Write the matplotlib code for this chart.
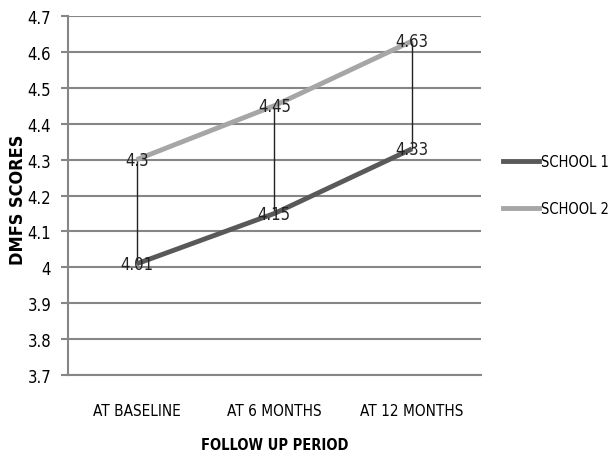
import matplotlib.pyplot as plt
from matplotlib.lines import Line2D

plt.rcParams['font.family'] = ['DejaVu Sans']
plt.rcParams['font.stretch'] = 'condensed'

# dmfs scores per follow up period
periods = ["AT BASELINE", "AT 6 MONTHS", "AT 12 MONTHS"]
school_1 = [4.01, 4.15, 4.33]
school_2 = [4.30, 4.45, 4.63]
y_ticks = [3.7, 3.8, 3.9, 4.0, 4.1, 4.2, 4.3, 4.4, 4.5, 4.6, 4.7]
y_tick_labels = ["3.7", "3.8", "3.9", "4", "4.1", "4.2", "4.3", "4.4", "4.5", "4.6", "4.7"]

c1 = "#595959"
c2 = "#a6a6a6"
grid_c = "#868686"

fig = plt.figure(figsize=(6.11, 4.56), dpi=100)
ax = fig.add_axes([0.111, 0.175, 0.676, 0.788])

x = list(range(len(periods)))

for yt in y_ticks:
    ax.axhline(yt, color=grid_c, lw=1.5, zorder=0)

# high-low lines between the two schools
ax.vlines(x, school_1, school_2, color="#222222", lw=1.0, zorder=1)

ax.plot(x, school_1, color=c1, lw=3.5, solid_capstyle="butt", zorder=2)
ax.plot(x, school_2, color=c2, lw=3.5, solid_capstyle="butt", zorder=2)

for xi, v in zip(x, school_1):
    ax.text(xi, v, f"{v:g}", ha="center", va="center", fontsize=12, color="#222222", zorder=3)
for xi, v in zip(x, school_2):
    ax.text(xi, v, f"{v:g}", ha="center", va="center", fontsize=12, color="#222222", zorder=3)

ax.set_xlim(-0.5, len(periods) - 0.5)
ax.set_ylim(3.7, 4.7)
ax.set_yticks(y_ticks)
ax.set_yticklabels(y_tick_labels, fontsize=12)
ax.set_xticks(x)
ax.set_xticklabels(periods, fontsize=11)
ax.tick_params(axis="y", length=5, width=1.5, color=grid_c, pad=7)
ax.tick_params(axis="x", length=0, pad=20)

for s in ["top", "right"]:
    ax.spines[s].set_visible(False)
for s in ["left", "bottom"]:
    ax.spines[s].set_color(grid_c)
    ax.spines[s].set_linewidth(1.5)

fig.text(0.5 * (0.111 + 0.787), 1 - 446 / 456, "FOLLOW UP PERIOD", fontsize=10.5,
         fontweight="bold", ha="center", va="center")
fig.text(18 / 611, 1 - 200 / 456, "DMFS SCORES", fontsize=13, fontweight="bold",
         rotation=90, ha="center", va="center")

handles = [Line2D([], [], color=c1, lw=3.5), Line2D([], [], color=c2, lw=3.5)]
fig.legend(handles, ["SCHOOL 1", "SCHOOL 2"], loc="center left",
           bbox_to_anchor=(503 / 611, 1 - 186 / 456), frameon=False, fontsize=10.5,
           borderpad=0, borderaxespad=0, handlelength=2.45, handletextpad=0.15,
           labelspacing=2.2)

fig.savefig("out.png", dpi=100)
